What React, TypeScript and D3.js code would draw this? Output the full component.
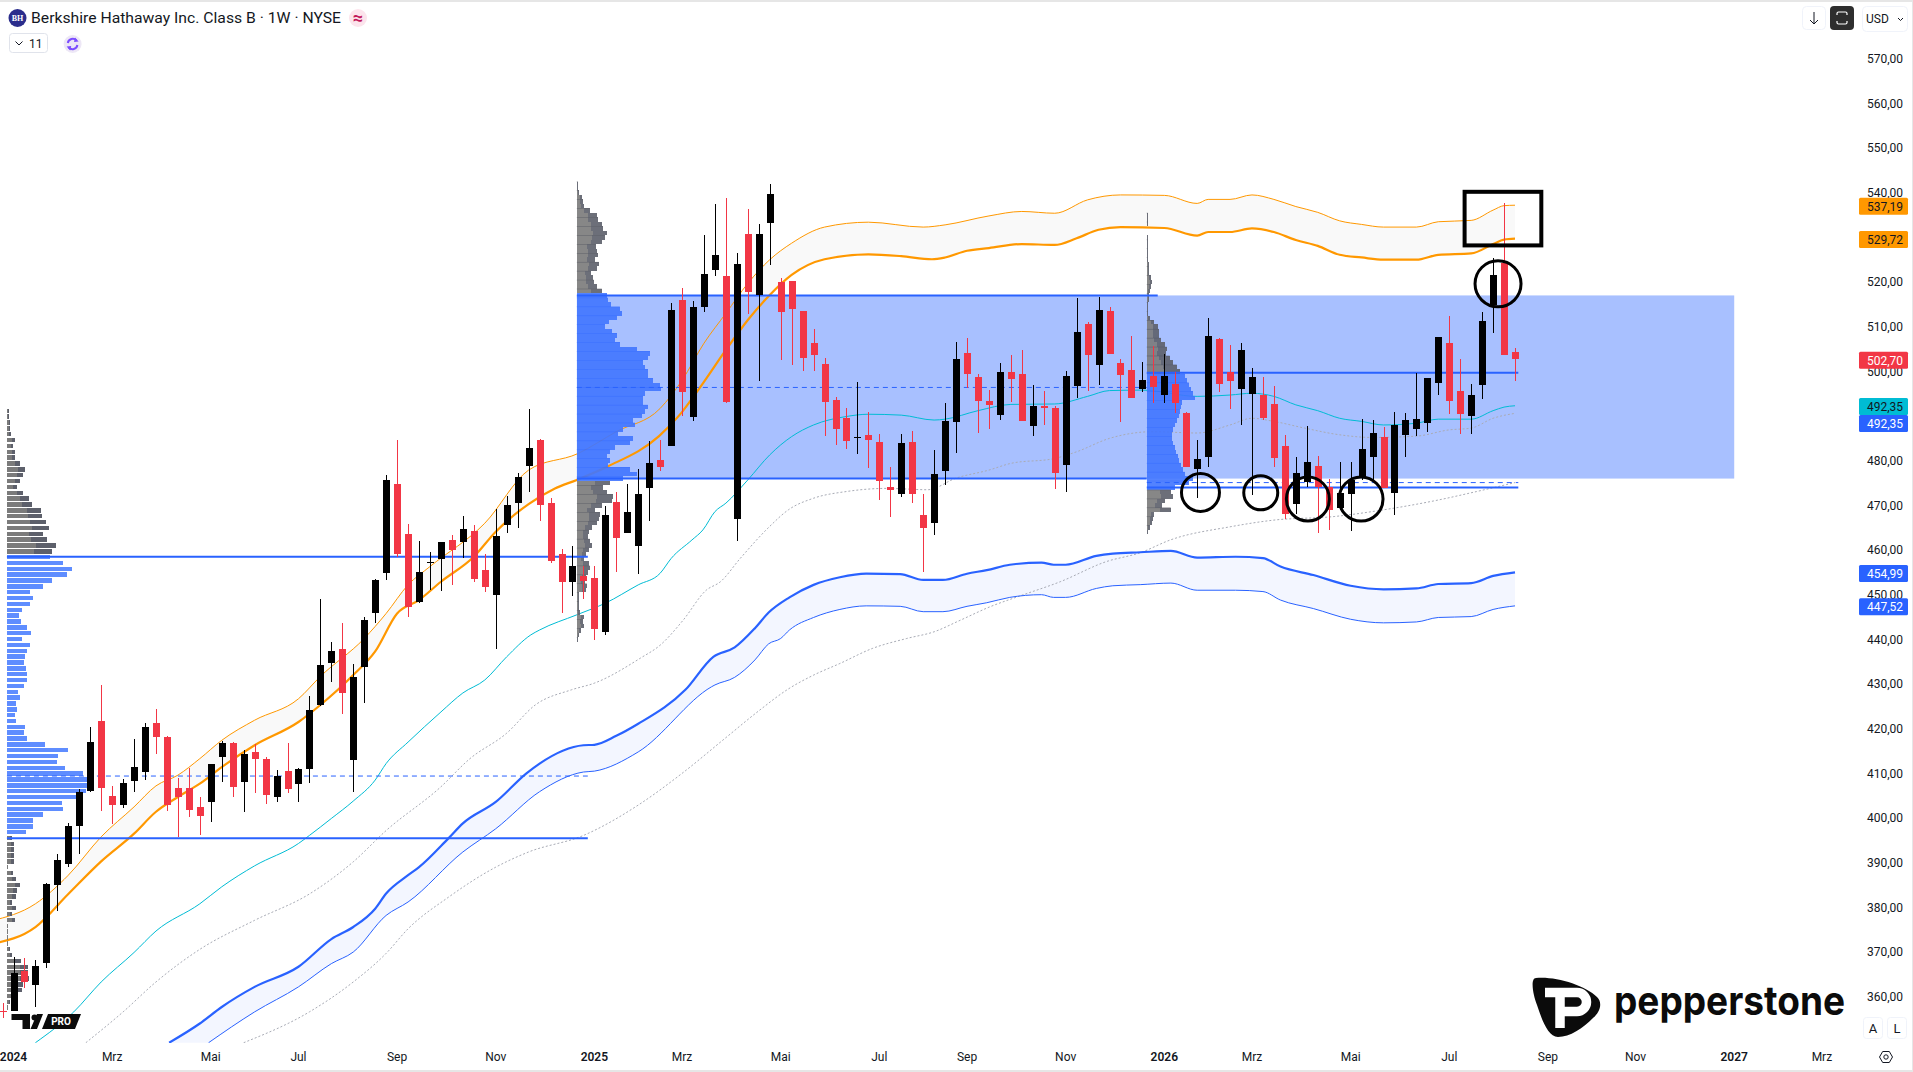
import * as d3 from 'd3';

// weekly bars, bar 0 = first week of 2024, first entry here is the last week of 2023
const firstBar = -1;
const opens = [
  356.8, 356.7, 365.7, 362.7, 367.6, 385.1, 389.6, 398.3, 406.1, 421.7,
  405, 403, 408.3, 410.3, 421.3, 418.2, 406.7, 406.7, 402.5, 403.7,
  413.7, 416.9, 408, 414.8, 413.2, 404.8, 410.5, 407.7, 411, 425.3,
  434.8, 437.9, 413.1, 433.9, 445.8, 454.9, 474.8, 463.7, 448.4, 457.2,
  458.1, 462.3, 461.7, 464.3, 455.5, 449.9, 465.6, 470.6, 478.9, 484.6,
  470.5, 459.1, 452.9, 454.2, 453.7, 441.7, 470.8, 463.9, 461, 473.8,
  480.2, 483.2, 516, 489.7, 514.3, 522.8, 521.4, 467, 530.8, 517.1,
  533.3, 520, 520.2, 513.5, 506.4, 501.7, 493.6, 489.6, 485.1, 485.8,
  484.2, 474.1, 472.6, 484.2, 467.9, 466, 477.7, 488.7, 504.1, 498.8,
  493.4, 490.2, 499.9, 499.4, 487.8, 492.3, 491.8, 479.1, 496.7, 510.6,
  501.4, 513.5, 501.9, 500.3, 496.1, 499, 494.6, 497.2, 490.7, 478.2,
  480.9, 507.3, 499.9, 496.1, 495, 494.7, 492.7, 483.3, 470.4, 475.2,
  478.8, 474.2, 469.4, 472.6, 476.4, 480.8, 485.3, 472.8, 485.8, 487.1,
  488.5, 497.4, 506.4, 495.6, 490, 497, 514.9, 524.2, 504.4,
];
const closes = [
  356.5, 365.3, 363.3, 366.8, 385.2, 390.6, 398.2, 405.8, 417, 406.7,
  402.9, 407.9, 411.4, 420.4, 418.2, 403, 404.7, 401.9, 400.5, 412,
  416.9, 407, 414.3, 413.3, 405.2, 409.4, 406.6, 411, 424.2, 434.3,
  437.4, 428.1, 431.6, 444.3, 453.3, 475.7, 459.1, 447.3, 455, 457.4,
  461.7, 459.9, 464.6, 453.5, 451.8, 463.2, 470.1, 476.4, 482.9, 470.1,
  457.6, 452.9, 456.4, 453.1, 442.3, 467.9, 462.7, 468.5, 472.6, 479.4,
  478.5, 513.8, 495.3, 514.4, 521.8, 526.1, 493.1, 524, 517.8, 530.8,
  539.7, 513.3, 514, 503.1, 503.7, 493.2, 487.1, 484.5, 485.4, 484.7,
  475.5, 473.5, 484, 472.6, 465, 477, 488.9, 502.8, 499.4, 493.4,
  492.5, 499.9, 498.3, 488.8, 492.3, 491.8, 477.3, 499, 508.8, 503.7,
  513.8, 503.9, 499.2, 494.1, 498.1, 496.5, 499, 492.9, 478.6, 480.3,
  507.9, 497.2, 497.9, 504.8, 498.8, 489.6, 480.6, 468.1, 477.3, 479.7,
  474.2, 469, 472.8, 475.7, 482.6, 486.2, 474, 488, 489.1, 489.4,
  498.5, 507.7, 493.4, 490.5, 494.7, 511.3, 521.6, 503.7, 502.7,
];
const highs = [
  358.5, 369, 368.7, 368.2, 385.4, 391.9, 398.9, 406.4, 420.4, 429.8,
  407.2, 408.8, 417.6, 421.3, 424.4, 418.4, 409, 411.2, 404.7, 412.1,
  417.3, 417, 415.2, 416.5, 413.6, 410.7, 416.8, 411.2, 427.3, 449,
  439.3, 443.6, 434.4, 444.9, 453.5, 476.8, 484.6, 465.8, 462, 459.5,
  461.8, 463.4, 467.6, 465.6, 459.1, 469.2, 472.1, 477.2, 491.6, 484.8,
  471.6, 460.2, 460.9, 456.5, 456.4, 469.9, 472.9, 474.8, 478.2, 484.5,
  484.7, 515.3, 518.6, 515.8, 530.6, 537.5, 538.8, 526.4, 536.4, 533,
  542, 521, 520.3, 513.6, 509.5, 502.9, 494.2, 491.8, 497.6, 490.9,
  486, 478.6, 486, 486.7, 472.6, 482.4, 492.9, 506.6, 507.5, 499.4,
  495.8, 501.9, 503.7, 504.8, 497, 495.6, 492.3, 500.1, 516.4, 511.1,
  516.7, 514.4, 502.8, 507.9, 502.1, 505.7, 503.9, 499.9, 490.8, 484.6,
  512, 507.5, 505.9, 506.4, 500.8, 498.8, 496.7, 485.8, 480.8, 487.8,
  481.1, 475.9, 479.7, 479.7, 489.4, 489.1, 487.6, 490.9, 490.7, 499.7,
  498.6, 507.8, 512.4, 502.8, 497.2, 513.3, 525.4, 537.7, 505.3,
];
const lows = [
  355.2, 356.7, 362, 357.7, 366.4, 379.1, 389, 392, 405.8, 401.6,
  398.7, 402.3, 405.8, 408.6, 414.4, 401.5, 395.8, 400.2, 396.3, 399.1,
  408.1, 404.7, 401.4, 405.6, 403.2, 403.5, 405.7, 403.6, 407.9, 425,
  430.5, 423.3, 405.8, 425.8, 443.7, 453.2, 458.5, 445.1, 448.2, 451.1,
  450.9, 452.2, 458.2, 452.9, 450.5, 437.8, 463.9, 465, 472.9, 466.4,
  457, 446, 449.7, 449, 439.9, 441, 455.1, 463.9, 454.6, 466.6,
  477.6, 483.2, 490, 488.8, 513.2, 521.4, 493, 462.1, 512.9, 497.9,
  523.8, 502.6, 501.5, 500.1, 500.1, 485.5, 483.5, 482.6, 481.5, 478.4,
  471.2, 467.4, 471.9, 470.6, 455.1, 463.4, 474.6, 481.7, 496.3, 486.2,
  487.1, 489.1, 493.2, 488.8, 485.5, 488, 473.7, 473, 494.1, 495.5,
  497, 503.9, 488.7, 494.1, 495.4, 492.9, 493, 490.7, 478.5, 471.7,
  478.5, 495.4, 491.6, 488, 472.3, 489.1, 478.6, 467, 468, 474.2,
  463.8, 464.5, 469, 464.3, 475.7, 475.7, 474, 467.9, 480.8, 485.5,
  486.4, 494.7, 490.5, 486, 486, 493.8, 508.6, 503.7, 497.9,
];

// moving average ribbons, [bar, price]
const orangeThin: [number, number][] = [
  [-2, 377], [2, 380.8], [5, 387.2], [8, 395.8], [11, 402.5], [13, 407.2], [15, 409.6], [17, 413.3],
  [19, 417.4], [22, 421.9], [26, 426.7], [28, 431.7], [32, 440.2], [34, 445.8], [36, 452.2], [38, 456.3],
  [43, 466], [47, 477.9], [51.5, 481.6], [55, 486.5], [59, 491.7], [61, 498], [63, 506.3], [65, 513],
  [67, 519.7], [69, 525], [71, 528.7], [74, 532.3], [78, 533.4], [83, 532.3], [85, 532.8], [89, 534.8],
  [92, 535.8], [95, 535.4], [98, 538.4], [101, 539.5], [105, 539.4], [108, 537.6], [109, 538.5], [111, 538.5],
  [113, 539.5], [115, 538.5], [117, 536.9], [119, 535.6], [121, 533.7], [123, 532.9], [125, 532.3], [128, 532.3],
  [130, 533.5], [133, 533.8], [135, 536.1], [136, 537.1], [137, 537.2],
];
const orangeThick: [number, number][] = [
  [-2, 371.8], [2, 375.6], [5, 383], [8, 390.3], [11, 396.5], [13, 401.4], [15, 404.7], [17, 407.7],
  [19, 411.4], [22, 416.3], [26, 421.5], [28, 425.3], [31, 432], [33, 437.3], [35, 445.8], [37, 448.8],
  [39, 452.9], [42, 458.5], [44, 464.1], [47, 470.3], [49.4, 473.8], [51.4, 475.7], [54.3, 478.8], [58.9, 485.5],
  [60.9, 490.6], [62.9, 497.3], [65, 504.8], [67, 511.5], [69, 517.1], [71, 521.6], [74, 525.1], [78, 526.2],
  [81, 525.8], [83.8, 525.1], [85, 525.5], [87, 527], [89, 527.6], [92, 528.5], [95, 528.3], [97, 529.8],
  [99, 531.7], [101, 532.3], [105, 532.1], [108, 530.4], [109, 531.2], [111, 531.2], [113, 532], [115, 531.2],
  [117, 529.4], [119, 528.1], [121, 526.1], [123, 525.5], [125, 525], [128, 525], [130, 526.1], [133, 526.4],
  [135, 528.5], [136, 529.5], [137, 529.7],
];
const cyanLine: [number, number][] = [
  [2, 349.7], [5.5, 356.6], [8, 363.3], [11, 369.9], [13, 374.7], [17, 380.8], [19, 384.6], [22, 389.3],
  [26, 394.3], [27, 396.1], [29, 399.9], [31, 403.8], [33, 408.5], [34, 412.2], [36, 417], [39, 423.75],
  [41, 428], [43, 430.9], [45, 436.1], [47.2, 441], [48, 442.1], [51.4, 445.5], [54, 448.1], [57, 452.2],
  [59, 454.8], [60, 458.1], [61.9, 462.25], [62.9, 464.5], [64, 468.6], [65, 470.5], [67, 475.7], [69, 481.3],
  [71, 485.4], [73, 488], [76, 489.9], [78, 490.4], [81, 490.2], [84, 489.1], [85, 489.3], [88, 491.2],
  [91, 492.6], [95, 492.7], [98, 494.4], [100, 495.7], [103, 495.8], [108, 494.4], [111, 494.7], [113, 495.1],
  [115, 494.4], [117, 492.5], [119, 491.2], [121, 489.5], [123, 488.8], [125, 488], [128, 488.4], [130, 489.3],
  [133, 489.3], [135, 491.2], [136, 492], [137, 492.3],
];
const greyUpper: [number, number][] = [
  [6.6, 349.7], [10, 356.6], [13, 363.3], [17, 370.6], [22, 377.1], [27, 383], [31, 390.2], [34, 397.2],
  [39, 407], [41.6, 413.2], [45, 419], [47.6, 425.3], [50.9, 428.7], [53, 430.2], [57.2, 435.8], [59, 438.7],
  [61.1, 444.3], [63.2, 451], [64.5, 452.9], [66.3, 458.1], [69, 465.3], [70.7, 469], [73, 471.6], [76, 473.1],
  [79.7, 473.8], [83.4, 473.5], [86, 476.1], [89, 477.9], [91, 479.4], [95, 480.5], [97, 482], [100, 485],
  [104, 486.5], [108, 486.2], [111, 488], [113, 489.5], [115, 488.8], [117.8, 487.3], [121, 485.8], [124, 485.2],
  [128, 485.5], [131, 486.9], [133, 487.3], [135, 489.5], [137, 490.6],
];
const greyLower: [number, number][] = [
  [21, 349.7], [27, 356.6], [31, 363.3], [34, 369.7], [36, 375.2], [39.7, 382.3], [44, 389], [47, 392.4],
  [52, 396.1], [57, 402.9], [61, 410], [65, 418], [68, 424], [70.7, 428.9], [73, 432], [75.4, 434.6],
  [78.4, 438], [81.5, 440.2], [84, 441.7], [86.4, 444.3], [89.1, 447.3], [91.8, 449.7], [95.5, 452.9], [99.7, 457.4],
  [102.8, 459.4], [105.6, 462.3], [111, 465.2], [115, 466.7], [120.5, 467.5], [125, 469], [130, 471.2], [133.5, 473.1],
  [137, 475.1],
];
const blueThick: [number, number][] = [
  [14.2, 349.7], [17, 354], [19, 357.7], [22, 362.2], [26, 366.7], [29, 372.9], [31, 375.6], [33, 379.7],
  [34, 383.1], [36, 387.2], [37, 389], [39.7, 395.5], [41, 398.8], [44, 403.6], [46.8, 410], [48, 412.2],
  [52, 416.3], [53, 416.4], [55, 418.4], [57, 421.1], [61.3, 428.7], [63.85, 436.1], [65.8, 438.2], [67.65, 442.5],
  [68.9, 446], [70.8, 449.4], [73, 452.2], [75.4, 453.9], [77.8, 454.7], [80.9, 454.6], [83, 453.3], [84.8, 453.3],
  [87, 454.7], [88.8, 455.5], [90.9, 456.7], [93.8, 457.2], [94.9, 456.7], [96, 456.7], [98.8, 458.7], [100.3, 459.2],
  [102.8, 459.5], [105.6, 459.8], [108, 458.3], [111.5, 458.5], [114, 458.2], [115.6, 456.3], [118.6, 454.4], [122, 452],
  [125, 451.2], [128, 451.4], [130, 452.4], [133, 452.6], [135, 454.2], [137, 455],
];
const blueThin: [number, number][] = [
  [17.8, 349.7], [22, 356.6], [26, 362.2], [29, 367.4], [31, 370], [34, 378.2], [36, 381.2], [41, 392.4],
  [44, 397.6], [48, 405.9], [52, 410.3], [53, 410.5], [57, 414.8], [63.7, 429.4], [64, 429.8], [65.8, 431.5],
  [67.65, 435.4], [68.9, 439], [70, 440.2], [70.8, 442.1], [73, 444.9], [75.4, 446.7], [77.8, 447.5], [80.9, 447.4],
  [83, 446.2], [84.8, 446.2], [87, 447.4], [88.8, 448.2], [90.9, 449.4], [93.8, 450], [94.9, 449.4], [96, 449.4],
  [98.8, 451.4], [100.3, 452], [102.8, 452.25], [105.6, 452.6], [108, 451], [111.5, 451], [114, 450.7], [115.6, 448.8],
  [118.6, 446.9], [122, 444.5], [125, 443.7], [128, 443.9], [130, 444.9], [133, 445.1], [135, 446.7], [137, 447.5],
];

// volume profiles: row volumes from the top price downwards
const vp1Top = 491;
const vp1Step = 1.31;
const vp1Vol = [
  2, 2, 3, 3, 4, 8, 6, 8, 8, 13, 18, 16, 13, 10, 16, 22, 25, 34, 35, 39, 42, 36, 40, 49, 45,
  43, 56, 65, 60, 45, 36, 23, 26, 23, 15, 12, 14, 20, 24, 15, 23, 20, 18, 17, 19, 20, 20, 17, 11, 13, 9, 10, 8, 9,
  18, 17, 20, 38, 61, 51, 50, 58, 76, 80, 80, 79, 70, 55, 56, 36, 26, 26, 19,
  5, 7, 7, 7, 7, 1, 6, 9, 13, 10, 9, 5, 9, 5, 8, 1, 1, 1, 1, 3, 5, 14, 21, 21, 22, 16, 15, 6, 3, 1,
];
const vp2Top = 542;
const vp2Vol = [
  1, 1, 2, 5, 6, 7, 13, 20, 21, 25, 26, 30, 28, 25, 19, 20, 21, 18, 22, 20, 14, 16, 17, 20, 25,
  30, 31, 34, 43, 45, 40, 32, 28, 35, 40, 38, 43, 60, 73, 71, 66, 68, 71, 71, 76, 83, 84, 68, 66, 66,
  71, 68, 65, 56, 58, 46, 41, 56, 53, 38, 33, 30, 33, 31, 53, 60, 46, 33, 26, 30, 36, 35, 25, 18, 23,
  22, 20, 15, 12, 11, 13, 15, 12, 9, 7, 12, 13, 11, 9, 8, 10, 9, 2, 2, 2, 2, 3, 7, 6, 7, 4, 2, 1,
];
const vp3Top = 535;
const vp3Vol = [
  1, 1, 1, 0, 0, 1, 1, 1, 1, 1, 1, 2, 2, 2, 4, 5, 4, 3, 2, 2, 1, 1, 1, 3, 7, 11, 12, 12, 14, 18, 20, 19, 23, 26, 30, 33,
  38, 40, 42, 44, 46, 48, 35, 34, 33, 32, 30, 28, 26, 25, 25, 26, 28, 29, 31, 32, 34, 36, 38, 46, 42,
  28, 24, 26, 18, 15, 24, 7, 6, 5, 3, 1,
];

// profile levels: start bar, end bar, value area high, point of control, value area low
const vp1Levels = { from: -0.6, to: 52.4, vah: 458.5, poc: 409.4, val: 395.5 };
const vp2Levels = { from: 51.4, to: 103.4, toTop: 104.4, vah: 517, poc: 496.4, val: 476 };
const vp3Levels = { from: 103.4, to: 137.3, vah: 499.7, poc: 475.1, val: 474 };
const boxRight = 157;

// hand drawn marks: [bar, price]
const circles: [number, number, number, number][] = [
  [108.3, 472.9, 19, 19], [113.8, 472.8, 17, 17], [118.1, 471.4, 21.5, 22], [122.95, 471.4, 22, 22], [135.45, 519.6, 23, 23],
];
const markBox = { bar0: 132.4, bar1: 139.4, top: 540.2, bottom: 528.2 };

const priceTicks = d3.range(570, 350, -10);
const timeLabels = ['2024', 'Mrz', 'Mai', 'Jul', 'Sep', 'Nov', '2025', 'Mrz', 'Mai', 'Jul', 'Sep', 'Nov', '2026', 'Mrz', 'Mai', 'Jul', 'Sep', 'Nov', '2027', 'Mrz'];
const timeBars = [0, 9, 18, 26, 35, 44, 53, 61, 70, 79, 87, 96, 105, 113, 122, 131, 140, 148, 157, 165];
const tagValues = [537.19, 529.72, 502.7, 492.35, 492.35, 454.99, 447.52];
const tagFills = ['#ff9800', '#ff9800', '#f23645', '#00bcd4', '#2962ff', '#2962ff', '#2962ff'];
const tagText = ['#131722', '#131722', '#fff', '#131722', '#fff', '#fff', '#fff'];
const tagNudge = [0, 0, 0, 0, 17, 0, 0];

const W = 1913;
const H = 1072;
const FONT = 'Roboto, "Liberation Sans", sans-serif';

const x = d3.scaleLinear().domain([0, 137]).range([13.5, 13.5 + 137 * 10.96]);
const y = d3.scaleLinear().domain([570, 360]).range([58.7, 996.7]);
const volW = d3.scaleLinear().domain([0, 100]).range([0, 100]);

const line = d3.line<[number, number]>().x(d => x(d[0])).y(d => y(d[1])).curve(d3.curveMonotoneX);
const ribbon = (a: [number, number][], b: [number, number][]) =>
  `${line(a)}L${(line([...b].reverse()) as string).slice(1)}Z`;
const priceFmt = (v: number) => d3.format('.2f')(v).replace('.', ',');

function Profile({ top, step, vols, fromBar, levels, rowFill, gap, split, sep, opacity }: {
  top: number; step: number; vols: number[]; fromBar: number;
  levels: { vah: number; val: number }; rowFill: { grey: string; greyIn: string; blue: string; blueIn: string };
  gap: number; split: number; sep: boolean; opacity: number;
}) {
  const x0 = x(fromBar);
  const rows = vols.map((v, i) => ({ v, p: top - i * step, i }));
  const h = Math.abs(y(step) - y(0));
  return (
    <g opacity={opacity}>
      {rows.map(r => {
        const inVa = r.p <= levels.vah && r.p >= levels.val;
        return (
          <g key={r.i}>
            <rect x={x0} y={y(r.p) - h / 2} width={volW(r.v)} height={h - gap} fill={inVa ? rowFill.blue : rowFill.grey} shapeRendering="crispEdges" />
            <rect x={x0} y={y(r.p) - h / 2} width={volW(r.v) * split} height={h - gap} fill={inVa ? rowFill.blueIn : rowFill.greyIn} shapeRendering="crispEdges" />
            {sep && r.i % 2 === 0 && (
              <rect x={x0} y={y(r.p) - h / 2} width={volW(r.v)} height={0.5} fill={inVa ? '#2f66ff' : '#4c4f59'} />
            )}
          </g>
        );
      })}
    </g>
  );
}

function Levels({ lv, topTo }: { lv: { from: number; to: number; vah: number; poc: number; val: number }; topTo: number }) {
  return (
    <g stroke="#2962ff">
      <line x1={x(lv.from)} x2={x(topTo)} y1={y(lv.vah)} y2={y(lv.vah)} strokeWidth={2} />
      <line x1={x(lv.from)} x2={x(lv.to)} y1={y(lv.val)} y2={y(lv.val)} strokeWidth={2} />
      <line x1={x(lv.from)} x2={x(lv.to)} y1={y(lv.poc)} y2={y(lv.poc)} strokeWidth={1} strokeDasharray="5 4" />
    </g>
  );
}

export default function App() {
  const paneBottom = 1043;
  const bars = opens.map((o, i) => ({ i: i + firstBar, o, c: closes[i], h: highs[i], l: lows[i] }));
  const bandTop = y(vp2Levels.vah);
  const bandH = y(vp2Levels.val) - bandTop;
  return (
    <svg width={W} height={H} viewBox={`0 0 ${W} ${H}`} style={{ position: 'absolute', left: 0, top: 0, display: 'block', background: '#fff' }} fontFamily={FONT}>
      <defs>
        <clipPath id="pane"><rect x={0} y={3} width={1858} height={paneBottom - 3} /></clipPath>
      </defs>

      <g clipPath="url(#pane)">
        <path d={ribbon(orangeThin, orangeThick)} fill="#f9f9f9" />
        <path d={ribbon(blueThick, blueThin)} fill="#f3f6ff" />
        <rect x={x(vp2Levels.from)} y={bandTop} width={x(boxRight) - x(vp2Levels.from)} height={bandH} fill="#a8c0ff" />

        <path d={line(greyUpper) as string} fill="none" stroke="#a8abb5" strokeWidth={1} strokeDasharray="2 2" />
        <path d={line(greyLower) as string} fill="none" stroke="#a8abb5" strokeWidth={1} strokeDasharray="2 2" />
        <path d={line(cyanLine) as string} fill="none" stroke="#00bcd4" strokeWidth={1} />
        <path d={line(orangeThin) as string} fill="none" stroke="#ff9800" strokeWidth={1} />
        <path d={line(orangeThick) as string} fill="none" stroke="#ff9800" strokeWidth={2.2} />
        <path d={line(blueThin) as string} fill="none" stroke="#2962ff" strokeWidth={1} />
        <path d={line(blueThick) as string} fill="none" stroke="#2962ff" strokeWidth={2.2} />

        <Profile top={vp1Top} step={vp1Step} vols={vp1Vol} fromBar={vp1Levels.from} levels={vp1Levels} gap={1.4} split={0.6} sep={false} opacity={1}
          rowFill={{ grey: '#5d606b', greyIn: '#7b7b7b', blue: '#5f8dff', blueIn: '#5f8dff' }} />
        <Profile top={vp2Top} step={1} vols={vp2Vol} fromBar={vp2Levels.from} levels={vp2Levels} gap={0} split={0.55} sep opacity={0.9}
          rowFill={{ grey: '#5d606b', greyIn: '#7b7b7b', blue: '#4176ff', blueIn: '#4176ff' }} />
        <Profile top={vp3Top} step={1} vols={vp3Vol} fromBar={vp3Levels.from} levels={vp3Levels} gap={0} split={0.55} sep opacity={0.9}
          rowFill={{ grey: '#5d606b', greyIn: '#7b7b7b', blue: '#4176ff', blueIn: '#4176ff' }} />

        <Levels lv={vp1Levels} topTo={vp1Levels.to} />
        <Levels lv={vp2Levels} topTo={vp2Levels.toTop} />
        <Levels lv={vp3Levels} topTo={vp3Levels.to} />

        {bars.map(b => {
          const up = b.c >= b.o;
          const col = up ? '#000' : '#f23645';
          const cx = Math.round(x(b.i));
          const top = y(Math.max(b.o, b.c));
          const bot = y(Math.min(b.o, b.c));
          return (
            <g key={b.i} shapeRendering="crispEdges">
              <rect x={cx - 0.5} y={y(b.h)} width={1} height={y(b.l) - y(b.h)} fill={col} />
              <rect x={cx - 3.5} y={top} width={7} height={Math.max(1, bot - top)} fill={col} />
            </g>
          );
        })}

        <rect x={x(markBox.bar0)} y={y(markBox.top)} width={x(markBox.bar1) - x(markBox.bar0)} height={y(markBox.bottom) - y(markBox.top)} fill="none" stroke="#000" strokeWidth={4} />
        {circles.map(([b, p, rx, ry]) => (
          <ellipse key={b} cx={x(b)} cy={y(p)} rx={rx} ry={ry} fill="none" stroke="#000" strokeWidth={3} />
        ))}
      </g>

      {/* price axis */}
      <g fontSize={12} fill="#131722">
        {priceTicks.map(t => (
          <text key={t} x={1867} y={y(t)} dy="0.36em">{priceFmt(t)}</text>
        ))}
      </g>
      {tagValues.map((v, i) => (
        <g key={i}>
          <rect x={1859} y={y(v) + 1 + tagNudge[i] - 8.5} width={49} height={17} rx={1.5} fill={tagFills[i]} />
          <text x={1867} y={y(v) + 1 + tagNudge[i]} dy="0.36em" fontSize={12} fill={tagText[i]}>{priceFmt(v)}</text>
        </g>
      ))}

      {/* time axis */}
      <g fontSize={12} fill="#131722" textAnchor="middle">
        {timeLabels.map((t, i) => (
          <text key={i} x={x(timeBars[i])} y={1057} dy="0.36em" fontWeight={/\d/.test(t) ? 600 : 400}>{t}</text>
        ))}
      </g>

      {/* header */}
      <circle cx={17.5} cy={18} r={9} fill="#2b2d8c" />
      <text x={17.5} y={18} dy="0.35em" textAnchor="middle" fontSize={8} fontWeight={700} fill="#fff" fontFamily="'Liberation Serif', serif">BH</text>
      <text x={31} y={18} dy="0.36em" fontSize={14} fill="#131722" textLength={310} lengthAdjust="spacingAndGlyphs">Berkshire Hathaway Inc. Class B · 1W · NYSE</text>
      <circle cx={358} cy={18} r={9} fill="#fce4ec" />
      <text x={358} y={18} dy="0.35em" textAnchor="middle" fontSize={18} fontWeight={700} fill="#c2185b">≈</text>
      <rect x={9.5} y={33.5} width={38} height={19} rx={3} fill="#fff" stroke="#e0e3eb" />
      <path d="M15.5 41.5 L19 45 L22.5 41.5" fill="none" stroke="#131722" strokeWidth={1} />
      <text x={29} y={43.5} dy="0.36em" fontSize={12} fill="#131722">11</text>
      <circle cx={72.6} cy={44} r={9} fill="#ede7f6" />
      <g fill="none" stroke="#7c4dff" strokeWidth={2}>
        <path d="M67.8 43 A5 5 0 0 1 76.5 40.5" />
        <path d="M77.4 45 A5 5 0 0 1 68.7 47.5" />
      </g>
      <path d="M75 37.5 L78.6 41.5 L74 42 Z M70.2 50.5 L66.6 46.5 L71.2 46 Z" fill="#7c4dff" />

      {/* top right controls */}
      <rect x={1802.5} y={6.5} width={23} height={23} rx={4} fill="#fff" stroke="#f0f3fa" />
      <path d="M1814 12 V24 M1810 20 L1814 24 L1818 20" fill="none" stroke="#131722" strokeWidth={1} />
      <rect x={1830} y={6} width={24} height={24} rx={4} fill="#2e2e2e" />
      <path d="M1837 15 V13.5 Q1837 12 1838.5 12 H1845.5 Q1847 12 1847 13.5 V15 M1837 21 V22.5 Q1837 24 1838.5 24 H1845.5 Q1847 24 1847 22.5 V21" fill="none" stroke="#fff" strokeWidth={1.2} />
      <rect x={1862.5} y={6.5} width={45} height={25} rx={4} fill="#fff" stroke="#f0f3fa" />
      <text x={1866} y={19} dy="0.36em" fontSize={12} fill="#131722">USD</text>
      <path d="M1898 18 L1900.5 20.5 L1903 18" fill="none" stroke="#131722" strokeWidth={1} />

      {/* bottom right controls */}
      <rect x={1863.5} y={1017.5} width={19} height={21} rx={3} fill="#fff" stroke="#f0f3fa" />
      <text x={1873} y={1028} dy="0.36em" textAnchor="middle" fontSize={13} fill="#131722">A</text>
      <rect x={1887.5} y={1017.5} width={19} height={21} rx={3} fill="#fff" stroke="#f0f3fa" />
      <text x={1897} y={1028} dy="0.36em" textAnchor="middle" fontSize={13} fill="#131722">L</text>
      <path d="M1879.5 1057 L1882.7 1051.5 H1889.3 L1892.5 1057 L1889.3 1062.5 H1882.7 Z" fill="none" stroke="#131722" strokeWidth={1} />
      <circle cx={1886} cy={1057} r={2.2} fill="none" stroke="#131722" strokeWidth={1} />

      {/* pepperstone logo */}
      <path d="M1536 978 C1555 976 1585 985 1597 997 C1603 1003 1600 1012 1593 1018 C1583 1028 1570 1037 1558 1037 C1548 1037 1542 1020 1537 1005 C1533 995 1530 978 1536 978 Z" fill="#0b0b0b" />
      <path d="M1545 992.5 H1577 A9.5 9.5 0 0 1 1577 1011.5 H1560 M1560 992.5 V1028" fill="none" stroke="#fff" strokeWidth={9.5} />
      <text x={1614} y={1015} fontSize={40} fontWeight={700} fontFamily="Inter, sans-serif" fill="#0b0b0b" textLength={231} lengthAdjust="spacingAndGlyphs">pepperstone</text>

      {/* tv pro badge */}
      <path d="M11.5 1014 H30 V1029 H22.5 V1020 H11.5 Z M30.5 1029 L37 1014 H43 L37 1029 Z" fill="#0b0b0b" />
      <circle cx={34.5} cy={1017.5} r={3} fill="#0b0b0b" />
      <path d="M48 1014 H81 L75 1029 H42 Z" fill="#0b0b0b" />
      <text x={61} y={1021.5} dy="0.36em" textAnchor="middle" fontSize={10} fontWeight={700} fill="#fff">PRO</text>

      {/* window edges */}
      <rect x={0} y={0} width={W} height={2} fill="#e6e6e6" />
      <rect x={0} y={1070} width={W} height={2} fill="#e6e6e6" />
      <rect x={1912} y={0} width={1} height={H} fill="#e6e6e6" />
    </svg>
  );
}
